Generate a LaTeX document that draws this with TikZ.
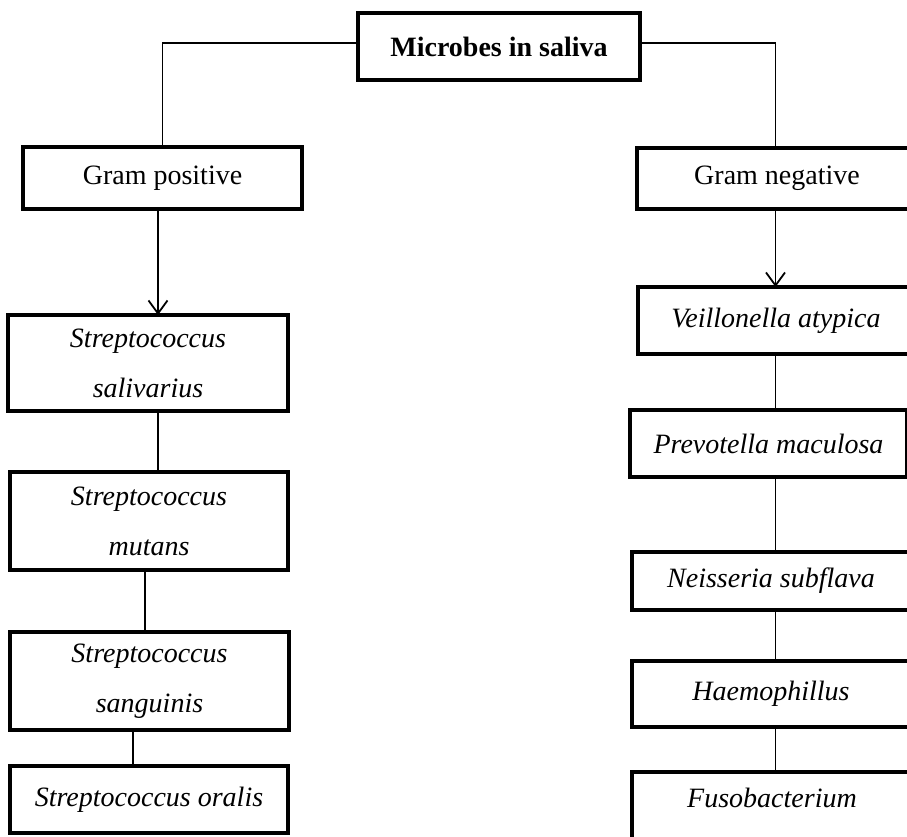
\documentclass[tikz,border=0pt]{standalone}
\usepackage{fontspec}
\setmainfont{Liberation Serif}
\usetikzlibrary{arrows.meta}
\begin{document}
\begin{tikzpicture}[x=1pt,y=-1pt,
  box/.style={draw, line width=3.3pt, inner sep=0pt, outer sep=0pt, align=center,
              font=\fontsize{28}{50}\selectfont},
  ibox/.style={box, font=\fontsize{28}{50}\selectfont\itshape},
  conn/.style={line width=1.2pt},
  arr/.style={conn, -{Straight Barb[length=13pt,width=19pt,line width=1.8pt]}}]
\useasboundingbox (0,0) rectangle (907,837);
\clip (0,0) rectangle (907,837);

\node[box, font=\fontsize{28}{50}\selectfont\bfseries, minimum width=282pt, minimum height=67pt] (top) at (499,46.5) {Microbes in saliva};

\node[box, minimum width=279pt, minimum height=62pt] (gp) at (162.5,178) {Gram positive};
\node[box, minimum width=280pt, minimum height=61pt] (gn) at (777,178.5) {Gram negative};

\node[ibox, minimum width=280pt, minimum height=96pt] (sal) at (148,363) {Streptococcus\\salivarius};
\node[ibox, minimum width=278pt, minimum height=98pt] (mut) at (149,521) {Streptococcus\\mutans};
\node[ibox, minimum width=279pt, minimum height=98pt] (san) at (149.5,681) {Streptococcus\\sanguinis};
\node[ibox, minimum width=278pt, minimum height=67pt] (ora) at (149,799.5) {Streptococcus oralis};

\node[ibox, minimum width=276pt, minimum height=67pt] (vei) at (776,320.5) {Veillonella atypica};
\node[ibox, minimum width=277pt, minimum height=67pt] (pre) at (768.5,443.5) {Prevotella maculosa};
\node[ibox, minimum width=278pt, minimum height=58pt] (nei) at (771,581) {Neisseria subflava};
\node[ibox, minimum width=278pt, minimum height=66pt] (hae) at (771,694) {Haemophillus};
\node[ibox, minimum width=280pt, minimum height=73pt, text height=19pt, text depth=22pt] (fus) at (772,808.5) {Fusobacterium};

\coordinate (cL) at (158,0);
\coordinate (cM) at (145,0);
\coordinate (cN) at (133,0);
\coordinate (cR) at (775.5,0);

\draw[conn] ([yshift=3.5pt]top.west) -| (gp.north);
\draw[conn] ([yshift=3.5pt]top.east) -| (gn.north -| cR);

\draw[arr] (gp.south -| cL) -- (sal.north -| cL);
\draw[conn] (sal.south -| cL) -- (mut.north -| cL);
\draw[conn] (mut.south -| cM) -- (san.north -| cM);
\draw[conn] (san.south -| cN) -- (ora.north -| cN);

\draw[arr] (gn.south -| cR) -- (vei.north -| cR);
\draw[conn] (vei.south -| cR) -- (pre.north -| cR);
\draw[conn] (pre.south -| cR) -- (nei.north -| cR);
\draw[conn] (nei.south -| cR) -- (hae.north -| cR);
\draw[conn] (hae.south -| cR) -- (fus.north -| cR);
\end{tikzpicture}
\end{document}
